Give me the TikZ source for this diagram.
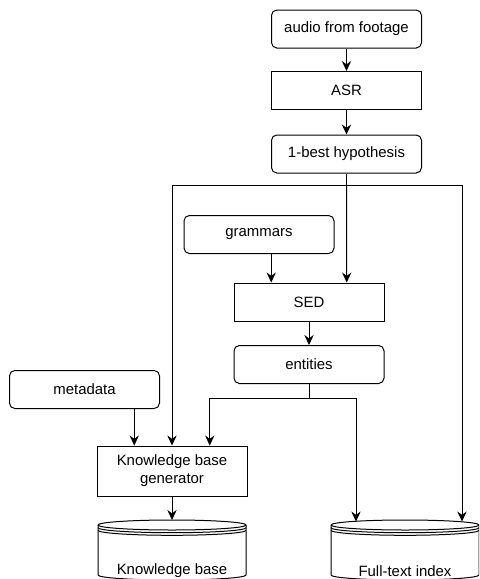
\documentclass[tikz,border=0pt]{standalone}
\usepackage{fontspec}
\setmainfont{Liberation Sans}
\usetikzlibrary{arrows.meta, calc}

\begin{document}
\begin{tikzpicture}[x=0.75pt, y=-0.75pt, line width=0.75pt]
    \tikzset{
        step box/.style={
                draw, minimum width=112.5pt, minimum height=28.5pt, inner sep=0pt,
                align=center, font=\fontsize{11.2}{13.4}\selectfont
            },
        data box/.style={step box, rounded corners=4pt},
        flow/.style={-{Stealth[length=7.5pt, width=7pt, inset=2.5pt]}},
        datastore/.pic={
                \draw[fill=white] (-74, 5) -- (-74, 55) arc[start angle=180, end angle=0, x radius=74, y radius=5]
                    -- (74, 5) arc[start angle=0, end angle=-180, x radius=74, y radius=5] -- cycle;
                \draw (-74, 5) arc[start angle=180, end angle=0, x radius=74, y radius=5];
                \draw (-74, 7.7) arc[start angle=180, end angle=0, x radius=74, y radius=5];
                \draw (-74, 10.3) arc[start angle=180, end angle=0, x radius=74, y radius=5];
                \coordinate (-top) at (0, 0);
                \node[font=\fontsize{11.2}{13.4}\selectfont] (-label) at (0, 51) {#1};
            }
    }

    \clip (0, 0) rectangle (479, 579);

    % --- speech part ---
    \node[data box] (audio) at (346.5, 29) {audio from footage};
    \node[step box] (asr) at (346.5, 90.5) {ASR};
    \node[data box] (best) at (346.5, 154) {1-best hypothesis};

    % --- entity detection ---
    \node[data box] (grammars) at (259, 234.5) {grammars};
    \node[step box] (sed) at (309, 302) {SED};
    \node[data box] (entities) at (309, 364.5) {entities};

    % --- knowledge base ---
    \node[data box] (metadata) at (84.5, 389.5) {metadata};
    \node[step box, minimum height=37.5pt] (kbgen) at (172, 471) {Knowledge base\\generator};

    \pic (kb) at (172, 520) {datastore={Knowledge base}};
    \pic (fti) at (405, 520) {datastore={Full-text index}};

    % entry points
    \coordinate (sedin1) at ($(sed.north west)!0.25!(sed.north east)$);
    \coordinate (sedin2) at ($(sed.north west)!0.75!(sed.north east)$);
    \coordinate (kbin1) at ($(kbgen.north west)!0.25!(kbgen.north east)$);
    \coordinate (kbin3) at ($(kbgen.north west)!0.75!(kbgen.north east)$);
    \coordinate (ftiin1) at ($(fti-top)+(-49, 1.5)$);
    \coordinate (ftiin2) at ($(fti-top)+(57, 1.5)$);
    \coordinate (bus) at ($(best.south)+(0, 12)$);
    \coordinate (ebus) at ($(entities.south)+(0, 14)$);

    \draw[flow] (audio) -- (asr);
    \draw[flow] (asr) -- (best);

    \draw (best.south) -- (bus);
    \draw[flow] (bus) -- (sedin2);
    \draw[flow] (bus) -| (kbgen.north);
    \draw[flow] (bus) -| (ftiin2);

    \draw[flow] (grammars.south -| sedin1) -- (sedin1);
    \draw[flow] (sed) -- (entities);

    \draw (entities.south) -- (ebus);
    \draw[flow] (ebus) -| (kbin3);
    \draw[flow] (ebus) -| (ftiin1);

    \draw[flow] (metadata.south -| kbin1) -- (kbin1);
    \draw[flow] (kbgen) -- (kb-top);
\end{tikzpicture}
\end{document}
